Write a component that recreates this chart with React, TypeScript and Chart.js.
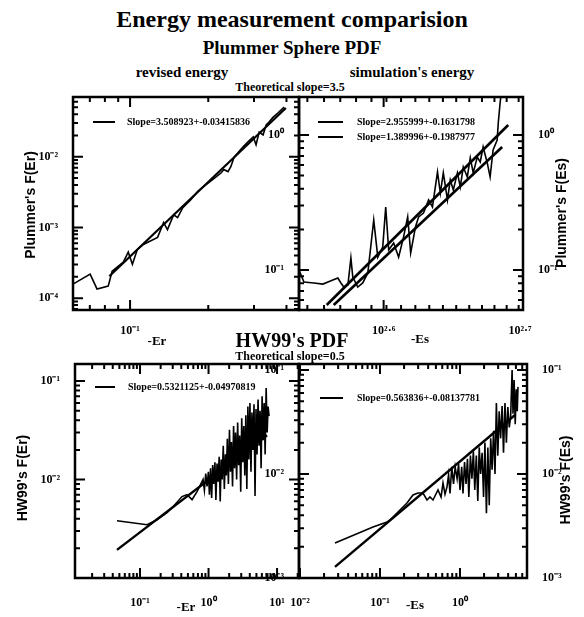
import React, { useEffect, useRef } from "react";
import { Chart, registerables } from "chart.js";
Chart.register(...registerables);

// ---------------- data ----------------
// Plummer sphere, revised energy
const plummerRevEr = [0.0603, 0.0702, 0.0746, 0.0824, 0.0853, 0.0942, 0.0984, 0.1021, 0.1067, 0.1125, 0.1276, 0.1346, 0.1393, 0.1472, 0.1524, 0.1596, 0.171, 0.1824, 0.1923, 0.2084, 0.2239, 0.2296, 0.2382, 0.2443, 0.2512, 0.2606, 0.2723, 0.2844, 0.2979, 0.3055, 0.3141, 0.3251, 0.3342, 0.3428, 0.3556, 0.3715, 0.389, 0.3926];
const plummerRevF = [1.58e-4, 2.19e-4, 1.35e-4, 1.48e-4, 2.4e-4, 3.24e-4, 4.47e-4, 3.02e-4, 4.9e-4, 5.75e-4, 7.24e-4, 1.17e-3, 9.33e-4, 1.51e-3, 1.38e-3, 1.91e-3, 2.45e-3, 3.24e-3, 3.8e-3, 4.79e-3, 5.89e-3, 6.61e-3, 6.17e-3, 7.24e-3, 9.77e-3, 1.15e-2, 1.38e-2, 1.62e-2, 1.91e-2, 1.48e-2, 2.24e-2, 2.04e-2, 2.82e-2, 3.09e-2, 3.63e-2, 4.17e-2, 4.9e-2, 5.01e-2];
const plummerRevFitEr = [0.0832, 0.398];
const plummerRevFitF = [2.04e-4, 0.049];

// Plummer sphere, simulation's energy
const plummerSimEs = [345.1, 348.0, 353.9, 359.3, 362.4, 365.4, 368.5, 370.4, 372.2, 374.8, 376.7, 377.9, 381.1, 384.3, 387.6, 391.5, 394.2, 397.5, 399.5, 401.5, 404.9, 408.3, 411.7, 414.6, 416.7, 420.1, 422.3, 425.8, 429.5, 432.3, 436.0, 438.1, 440.3, 443.4, 445.5, 447.8, 450.9, 453.1, 455.4, 458.5, 460.8, 463.1, 466.3, 468.6, 470.9, 474.2, 476.5, 478.9, 482.2, 483.1, 484.6, 486.3];
const plummerSimF = [0.1, 0.0815, 0.0802, 0.0787, 0.0815, 0.0843, 0.0873, 0.0802, 0.0748, 0.0774, 0.1227, 0.0887, 0.0748, 0.0802, 0.0951, 0.2344, 0.1247, 0.1479, 0.2931, 0.1406, 0.1585, 0.1247, 0.1754, 0.2472, 0.1337, 0.2084, 0.2472, 0.2642, 0.3304, 0.2931, 0.5321, 0.3715, 0.5236, 0.3304, 0.4645, 0.3917, 0.5236, 0.4121, 0.5794, 0.4887, 0.6761, 0.5236, 0.6871, 0.631, 0.8147, 0.6209, 0.4887, 0.7745, 0.9183, 1.227, 1.726, 2.344];
const plummerSimFitAEs = [361.6, 491.3];
const plummerSimFitAF = [0.0551, 1.186];
const plummerSimFitBEs = [365.9, 486.3];
const plummerSimFitBF = [0.0551, 0.815];

// HW99, revised energy
const hwRevEr = [0.0461, 0.1265, 0.177, 0.248, 0.303, 0.41, 0.485, 0.574, 0.679, 0.832, 0.87, 0.91, 0.951, 0.995, 1.03, 1.07, 1.11, 1.15, 1.19, 1.24, 1.28, 1.33, 1.38, 1.43, 1.48, 1.53, 1.58, 1.64, 1.7, 1.76, 1.82, 1.88, 1.95, 2.02, 2.09, 2.16, 2.24, 2.32, 2.4, 2.48, 2.57, 2.66, 2.75, 2.85, 2.95, 3.05, 3.16, 3.27, 3.38, 3.5, 3.62, 3.75, 3.88, 4.02, 4.16, 4.3, 4.45, 4.61, 4.77, 4.93, 5.1, 5.28, 5.46, 5.65, 5.85, 6.05, 6.26, 6.48, 6.7, 6.93, 7.17, 7.4, 7.64];
const hwRevF = [3.82e-3, 3.48e-3, 3.91e-3, 4.6e-3, 5.3e-3, 6.71e-3, 7.03e-3, 6.25e-3, 7.55e-3, 1.0e-2, 7.8e-3, 1.15e-2, 8.5e-3, 1.2e-2, 7.0e-3, 1.3e-2, 6.5e-3, 1.4e-2, 9.0e-3, 1.5e-2, 6.2e-3, 1.45e-2, 9.5e-3, 1.7e-2, 6.0e-3, 1.6e-2, 1.0e-2, 2.2e-2, 8.0e-3, 1.8e-2, 1.1e-2, 2.6e-2, 9.0e-3, 3.2e-2, 1.2e-2, 2.4e-2, 8.5e-3, 3.5e-2, 1.3e-2, 3.0e-2, 1.0e-2, 3.8e-2, 1.4e-2, 2.8e-2, 7.5e-3, 4.2e-2, 1.5e-2, 3.5e-2, 1.1e-2, 4.5e-2, 8.0e-3, 5.5e-2, 1.6e-2, 6.0e-2, 1.2e-2, 4.8e-2, 2.0e-2, 5.8e-2, 6.8e-3, 5.2e-2, 1.8e-2, 6.5e-2, 2.2e-2, 5.0e-2, 1.3e-2, 7.0e-2, 2.5e-2, 6.0e-2, 1.8e-2, 8.5e-2, 3.0e-2, 5.5e-2, 4.4e-2];
const hwRevFitEr = [0.0461, 7.14];
const hwRevFitF = [1.93e-3, 0.0282];

// HW99, simulation's energy
const hwSimEs = [0.02738, 0.0818, 0.1223, 0.1334, 0.2175, 0.2585, 0.2985, 0.3447, 0.3868, 0.4217, 0.4597, 0.5309, 0.58, 0.6131, 0.65, 0.6879, 0.72, 0.75, 0.79, 0.83, 0.87, 0.92, 0.96, 1.0, 1.05, 1.09, 1.14, 1.19, 1.24, 1.29, 1.35, 1.41, 1.47, 1.53, 1.6, 1.67, 1.74, 1.81, 1.89, 1.97, 2.05, 2.14, 2.23, 2.32, 2.42, 2.52, 2.63, 2.74, 2.85, 2.97, 3.09, 3.22, 3.36, 3.5, 3.65, 3.8, 3.96, 4.13, 4.3, 4.48, 4.6, 4.75, 4.9, 5.05, 5.2, 5.31];
const hwSimF = [2.17e-3, 3.09e-3, 3.45e-3, 3.61e-3, 5.26e-3, 6.28e-3, 6.56e-3, 6.56e-3, 5.62e-3, 6.01e-3, 5.62e-3, 7.02e-3, 6.0e-3, 8.19e-3, 6.4e-3, 7.5e-3, 9.8e-3, 6.5e-3, 1.17e-2, 8.0e-3, 1.17e-2, 9.0e-3, 1.25e-2, 7.0e-3, 1.17e-2, 6.5e-3, 1.3e-2, 8.0e-3, 1.4e-2, 6.0e-3, 1.5e-2, 9.0e-3, 1.65e-2, 7.0e-3, 1.5e-2, 5.5e-3, 1.8e-2, 1.0e-2, 1.6e-2, 6.0e-3, 2.0e-2, 4.2e-3, 1.8e-2, 5.0e-3, 2.2e-2, 1.1e-2, 2.6e-2, 1.0e-2, 4.8e-2, 1.5e-2, 4.0e-2, 2.2e-2, 4.5e-2, 1.6e-2, 4.8e-2, 2.0e-2, 4.4e-2, 2.8e-2, 3.6e-2, 1.0e-1, 3.8e-2, 8.0e-2, 3.0e-2, 6.5e-2, 4.0e-2, 6.87e-2];
const hwSimFitEs = [0.02738, 4.87];
const hwSimFitF = [1.28e-3, 3.69e-2];

// tick labels
const tlXTickVals = [0.1];
const tlXTickText = ["10⁻¹"];
const tlYTickVals = [1e-4, 1e-3, 1e-2];
const tlYTickText = ["10⁻⁴", "10⁻³", "10⁻²"];
const trXTickVals = [398.1, 501.2];
const trXTickText = ["10²·⁶", "10²·⁷"];
const trYTickVals = [0.1, 1];
const trYTickText = ["10⁻¹", "10⁰"];
const blXTickVals = [0.1, 1, 10];
const blXTickText = ["10⁻¹", "10⁰", "10¹"];
const blYTickVals = [0.01, 0.1];
const blYTickText = ["10⁻²", "10⁻¹"];
const brXTickVals = [0.01, 0.1, 1];
const brXTickText = ["10⁻²", "10⁻¹", "10⁰"];
const brYTickVals = [0.001, 0.01, 0.1];
const brYTickText = ["10⁻³", "10⁻²", "10⁻¹"];

const legendTexts = [
  "Slope=3.508923+-0.03415836",
  "Slope=2.955999+-0.1631798",
  "Slope=1.389996+-0.1987977",
  "Slope=0.5321125+-0.04970819",
  "Slope=0.563836+-0.08137781",
];

// ---------------- helpers ----------------
type Mark = { v: number; major: boolean };
function logMarks(min: number, max: number): Mark[] {
  const out: Mark[] = [];
  const lo = Math.floor(Math.log10(min));
  const hi = Math.ceil(Math.log10(max));
  for (let n = lo; n <= hi; n++) {
    for (let m = 1; m <= 9; m++) {
      const v = m * Math.pow(10, n);
      if (v > min * 1.01 && v < max / 1.01) out.push({ v, major: m === 1 });
    }
  }
  return out;
}
function linMarks(from: number, to: number, step: number, majors: number[]): Mark[] {
  const out: Mark[] = [];
  for (let v = from; v <= to + 1e-9; v += step) out.push({ v, major: false });
  majors.forEach((v) => out.push({ v, major: true }));
  return out;
}

interface Series { xs: number[]; ys: number[]; width: number }
interface PanelDef {
  box: [number, number, number, number];
  padL: number;
  padR: number;
  padB: number;
  xMin: number; xMax: number; yMin: number; yMax: number;
  xVals: number[]; xText: string[];
  yVals: number[]; yText: string[];
  right: boolean;
  xPad: number;
  xMarks: Mark[]; yMarks: Mark[];
  series: Series[];
}

// inward axis tick marks expressed through the scales (gap-separated segments)
function tickSegments(def: PanelDef) {
  const [l, t, r, b] = def.box;
  const decX = (r - l) / (Math.log10(def.xMax) - Math.log10(def.xMin));
  const decY = (b - t) / (Math.log10(def.yMax) - Math.log10(def.yMin));
  const pts: { x: number; y: number | null }[] = [];
  def.xMarks.forEach((m) => {
    if (m.v >= def.xMax / 1.005) return;
    const f = Math.pow(10, (m.major ? 10 : 5) / decY);
    pts.push({ x: m.v, y: def.yMin }, { x: m.v, y: def.yMin * f }, { x: m.v, y: null });
    pts.push({ x: m.v, y: def.yMax }, { x: m.v, y: def.yMax / f }, { x: m.v, y: null });
  });
  def.yMarks.forEach((m) => {
    const f = Math.pow(10, (m.major ? 10 : 5) / decX);
    pts.push({ x: def.xMin, y: m.v }, { x: def.xMin * f, y: m.v }, { x: def.xMin * f, y: null });
    pts.push({ x: def.xMax, y: m.v }, { x: def.xMax / f, y: m.v }, { x: def.xMax / f, y: null });
  });
  return pts;
}

const PAD_T = 10;
const tickFont = { family: "'Liberation Serif', serif", size: 12, weight: "bold" as const };

function zeroPad(s: any) {
  s.paddingLeft = 0; s.paddingRight = 0; s.paddingTop = 0; s.paddingBottom = 0;
}

function Panel({ def }: { def: PanelDef }) {
  const ref = useRef<HTMLCanvasElement>(null);
  const [bl, bt, br, bb] = def.box;
  const W = def.padL + (br - bl) + def.padR;
  const H = PAD_T + (bb - bt) + def.padB;
  useEffect(() => {
    const plug = {
      id: "boxFrame",
      afterDraw(chart: any) {
        const ctx = chart.ctx;
        const a = chart.chartArea;
        ctx.save();
        ctx.strokeStyle = "#000";
        ctx.lineWidth = 2.5;
        ctx.strokeRect(a.left, a.top, a.right - a.left, a.bottom - a.top);
        ctx.restore();
      },
    };
    const yAxis = (pos: string, w: number) => ({
      type: "logarithmic",
      position: pos,
      min: def.yMin,
      max: def.yMax,
      grid: { display: false },
      border: { display: false },
      ticks: {
        font: tickFont, color: "#000", padding: 7, autoSkip: false,
        callback: (_v: any, i: number) => def.yText[i],
      },
      afterBuildTicks: (s: any) => { s.ticks = def.yVals.map((v) => ({ value: v })); },
      afterFit: (s: any) => { s.width = w; zeroPad(s); },
    });
    const scales: any = {
      x: {
        type: "logarithmic",
        min: def.xMin,
        max: def.xMax,
        grid: { display: false },
        border: { display: false },
        ticks: {
          font: tickFont, color: "#000", padding: def.xPad, autoSkip: false, maxRotation: 0, minRotation: 0,
          callback: (_v: any, i: number) => def.xText[i],
        },
        afterBuildTicks: (s: any) => { s.ticks = def.xVals.map((v) => ({ value: v })); },
        afterFit: (s: any) => { s.height = def.padB; zeroPad(s); },
      },
      y: yAxis("left", def.padL),
    };
    if (def.right) scales.y2 = yAxis("right", def.padR);
    const datasets: any[] = def.series.map((s) => ({
      data: s.xs.map((x, i) => ({ x, y: s.ys[i] })),
      borderColor: "#000",
      borderWidth: s.width,
      pointRadius: 0,
      tension: 0,
      fill: false,
    }));
    datasets.push({
      data: tickSegments(def),
      borderColor: "#000",
      borderWidth: 2,
      pointRadius: 0,
      tension: 0,
      fill: false,
      spanGaps: false,
    });
    const chart = new Chart(ref.current as HTMLCanvasElement, {
      type: "line",
      data: { datasets },
      options: {
        animation: false,
        responsive: false,
        devicePixelRatio: 1,
        events: [],
        layout: { padding: { top: PAD_T, right: def.right ? 0 : def.padR, left: 0, bottom: 0 } },
        plugins: {
          legend: { display: false },
          tooltip: { enabled: false },
        },
        scales,
      },
      plugins: [plug],
    } as any);
    return () => chart.destroy();
  }, []);
  return (
    <canvas
      ref={ref}
      width={W}
      height={H}
      style={{ position: "absolute", left: bl - def.padL, top: bt - PAD_T, width: W, height: H }}
    />
  );
}

const SERIF = "'Liberation Serif', 'Times New Roman', serif";
const SANS = "'Liberation Sans', Arial, sans-serif";

function Txt(props: { x: number; y: number; size: number; text: string; bold?: boolean; family?: string; rot?: boolean }) {
  return (
    <div
      style={{
        position: "absolute",
        left: props.x,
        top: props.y,
        transform: "translate(-50%, -50%)" + (props.rot ? " rotate(-90deg)" : ""),
        fontSize: props.size,
        fontWeight: props.bold ? "bold" : "normal",
        fontFamily: props.family || SERIF,
        whiteSpace: "nowrap",
        lineHeight: 1,
        color: "#000",
      }}
    >
      {props.text}
    </div>
  );
}

function Legend(props: { x1: number; x2: number; tx: number; y: number; text: string }) {
  return (
    <>
      <div style={{ position: "absolute", left: props.x1, top: props.y - 1, width: props.x2 - props.x1, height: 2, background: "#000" }} />
      <div
        style={{
          position: "absolute", left: props.tx, top: props.y, transform: "translateY(-50%)",
          fontSize: 10, fontWeight: "bold", fontFamily: SERIF, whiteSpace: "nowrap", lineHeight: 1,
        }}
      >
        {props.text}
      </div>
    </>
  );
}

export default function App() {
  const tl: PanelDef = {
    box: [73, 97, 299, 310], padL: 73, padR: 4, padB: 40,
    xMin: 0.0603, xMax: 0.447, yMin: 6.8e-5, yMax: 0.07,
    xVals: tlXTickVals, xText: tlXTickText, yVals: tlYTickVals, yText: tlYTickText,
    right: false, xPad: 6,
    xMarks: logMarks(0.0603, 0.447), yMarks: logMarks(6.8e-5, 0.07),
    series: [
      { xs: plummerRevEr, ys: plummerRevF, width: 1.6 },
      { xs: plummerRevFitEr, ys: plummerRevFitF, width: 2.2 },
    ],
  };
  const tr: PanelDef = {
    box: [299, 97, 523, 310], padL: 40, padR: 61, padB: 40,
    xMin: 345.1, xMax: 503.7, yMin: 0.0506, yMax: 1.91,
    xVals: trXTickVals, xText: trXTickText, yVals: trYTickVals, yText: trYTickText,
    right: true, xPad: 6,
    xMarks: linMarks(350, 500, 10, [398.1]), yMarks: logMarks(0.0506, 1.91),
    series: [
      { xs: plummerSimEs, ys: plummerSimF, width: 1.6 },
      { xs: plummerSimFitAEs, ys: plummerSimFitAF, width: 2.6 },
      { xs: plummerSimFitBEs, ys: plummerSimFitBF, width: 2.6 },
    ],
  };
  const bl: PanelDef = {
    box: [75, 364, 299, 578], padL: 75, padR: 4, padB: 39,
    xMin: 0.01125, xMax: 20.9, yMin: 0.001, yMax: 0.149,
    xVals: blXTickVals, xText: blXTickText, yVals: blYTickVals, yText: blYTickText,
    right: false, xPad: 10,
    xMarks: logMarks(0.01125, 20.9), yMarks: logMarks(0.001, 0.149),
    series: [
      { xs: hwRevEr, ys: hwRevF, width: 1.6 },
      { xs: hwRevFitEr, ys: hwRevFitF, width: 2.4 },
    ],
  };
  const br: PanelDef = {
    box: [299, 364, 527, 578], padL: 40, padR: 57, padB: 39,
    xMin: 0.00972, xMax: 6.88, yMin: 0.001, yMax: 0.114,
    xVals: brXTickVals, xText: brXTickText, yVals: brYTickVals, yText: brYTickText,
    right: true, xPad: 10,
    xMarks: logMarks(0.00972, 6.88), yMarks: logMarks(0.001, 0.114),
    series: [
      { xs: hwSimEs, ys: hwSimF, width: 1.6 },
      { xs: hwSimFitEs, ys: hwSimFitF, width: 2.4 },
    ],
  };
  return (
    <div style={{ position: "absolute", left: 0, top: 0, width: 584, height: 617, background: "#fff", overflow: "hidden" }}>
      <Txt x={292} y={19} size={24} bold text="Energy measurement comparision" />
      <Txt x={292} y={47} size={19} bold text="Plummer Sphere PDF" />
      <Txt x={182} y={72} size={15} bold text="revised energy" />
      <Txt x={412} y={72} size={15} bold text="simulation's energy" />
      <Txt x={290} y={87} size={12} bold text="Theoretical slope=3.5" />
      <Panel def={tl} />
      <Panel def={tr} />
      <Txt x={157} y={340} size={13} bold text="-Er" />
      <Txt x={420} y={338} size={13} bold text="-Es" />
      <Txt x={292} y={340} size={20} bold text="HW99's PDF" />
      <Txt x={290} y={356} size={12} bold text="Theoretical slope=0.5" />
      <Panel def={bl} />
      <Panel def={br} />
      <Txt x={186} y={606} size={13} bold text="-Er" />
      <Txt x={415} y={604} size={13} bold text="-Es" />
      <Txt x={30} y={205} size={14} bold family={SANS} rot text="Plummer's F(Er)" />
      <Txt x={561} y={213} size={14} bold family={SANS} rot text="Plummer's F(Es)" />
      <Txt x={22} y={478} size={14} bold family={SANS} rot text="HW99's F(Er)" />
      <Txt x={565} y={480} size={14} bold family={SANS} rot text="HW99's F(Es)" />
      <Legend x1={93} x2={115} tx={127} y={122} text={legendTexts[0]} />
      <Legend x1={318} x2={343} tx={357} y={122} text={legendTexts[1]} />
      <Legend x1={318} x2={343} tx={357} y={137} text={legendTexts[2]} />
      <Legend x1={95} x2={115} tx={128} y={387} text={legendTexts[3]} />
      <Legend x1={320} x2={343} tx={357} y={398} text={legendTexts[4]} />
    </div>
  );
}
